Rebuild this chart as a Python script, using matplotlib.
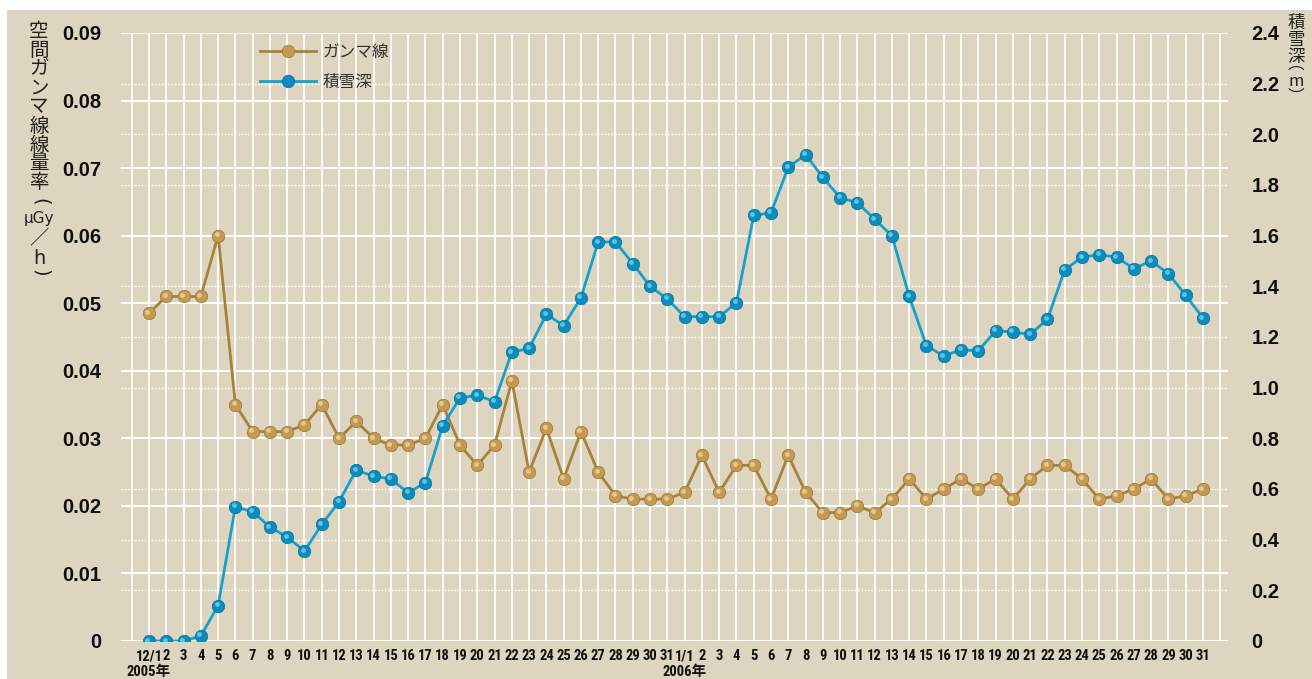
import matplotlib
matplotlib.use("Agg")
import matplotlib.pyplot as plt
from matplotlib.patches import Rectangle
from matplotlib import font_manager as fm
from matplotlib.transforms import offset_copy
import numpy as np
import os

# ---------------- data ----------------
day_labels = [
    "12/1", "2", "3", "4", "5", "6", "7", "8", "9", "10", "11", "12", "13", "14", "15", "16",
    "17", "18", "19", "20", "21", "22", "23", "24", "25", "26", "27", "28", "29", "30", "31",
    "1/1", "2", "3", "4", "5", "6", "7", "8", "9", "10", "11", "12", "13", "14", "15", "16",
    "17", "18", "19", "20", "21", "22", "23", "24", "25", "26", "27", "28", "29", "30", "31",
]
year_labels = {0: "2005年", 31: "2006年"}

gamma = [
    0.0485, 0.051, 0.051, 0.051, 0.060, 0.035, 0.031, 0.031, 0.031, 0.032, 0.035,
    0.030, 0.0325, 0.030, 0.029, 0.029, 0.030, 0.035, 0.029, 0.026, 0.029, 0.0385,
    0.025, 0.0315, 0.024, 0.031, 0.025, 0.0215, 0.021, 0.021, 0.021,
    0.022, 0.0275, 0.022, 0.026, 0.026, 0.021, 0.0275, 0.022, 0.019, 0.019, 0.020,
    0.019, 0.021, 0.024, 0.021, 0.0225, 0.024, 0.0225, 0.024, 0.021, 0.024, 0.026,
    0.026, 0.024, 0.021, 0.0215, 0.0225, 0.024, 0.021, 0.0215, 0.0225,
]
snow = [
    0.0, 0.0, 0.0, 0.02, 0.14, 0.53, 0.51, 0.45, 0.41, 0.355, 0.46,
    0.55, 0.675, 0.65, 0.64, 0.585, 0.625, 0.85, 0.96, 0.97, 0.945, 1.14,
    1.155, 1.29, 1.245, 1.355, 1.575, 1.575, 1.49, 1.40, 1.35,
    1.28, 1.28, 1.28, 1.335, 1.68, 1.69, 1.87, 1.92, 1.83, 1.75, 1.73,
    1.665, 1.60, 1.36, 1.165, 1.125, 1.15, 1.145, 1.225, 1.22, 1.21, 1.27,
    1.465, 1.515, 1.525, 1.515, 1.47, 1.50, 1.45, 1.365, 1.275,
]
left_ticks = [0, 0.01, 0.02, 0.03, 0.04, 0.05, 0.06, 0.07, 0.08, 0.09]
left_tick_labels = ["0", "0.01", "0.02", "0.03", "0.04", "0.05", "0.06", "0.07", "0.08", "0.09"]
right_ticks = [0, 0.2, 0.4, 0.6, 0.8, 1.0, 1.2, 1.4, 1.6, 1.8, 2.0, 2.2, 2.4]
right_tick_labels = ["0", "0.2", "0.4", "0.6", "0.8", "1.0", "1.2", "1.4", "1.6", "1.8", "2.0", "2.2", "2.4"]
series_names = ["ガンマ線", "積雪深"]

# ---------------- style ----------------
BG = "#ddd5bf"
GOLD_LINE = "#a8823a"
GOLD_MARK = "#c49a52"
GOLD_HI = "#e6c88e"
GOLD_EDGE = "#9a7636"
BLUE_LINE = "#16a0cc"
BLUE_MARK = "#0a8dbd"
BLUE_HI = "#5cc4e6"
BLUE_EDGE = "#07739b"
TXT = "#111111"
CJK = "Noto Sans CJK JP"

# find a narrow/condensed bold face for the crowded day labels
def find_narrow():
    prefs = ["LiberationSansNarrow-Bold", "RobotoCondensed-Bold", "OpenSans-CondBold",
             "OpenSansCondensed-Bold", "OpenSans_Condensed-Bold", "DejaVuSansCondensed-Bold"]
    files = [f.fname for f in fm.fontManager.ttflist]
    for p in prefs:
        for fn in files:
            if os.path.splitext(os.path.basename(fn))[0].replace(" ", "") == p:
                return fn
    for fn in files:
        b = os.path.basename(fn).lower()
        if ("narrow" in b or "cond" in b) and "bold" in b:
            return fn
    return None

narrow_file = find_narrow()
if narrow_file:
    narrow_fp = fm.FontProperties(fname=narrow_file, size=10.5)
    narrow_name = fm.FontProperties(fname=narrow_file).get_name()
    year_size = 10.5
else:
    narrow_fp = fm.FontProperties(family="Liberation Sans", weight="bold", size=9.5)
    narrow_name = "Liberation Sans"
    year_size = 10

W, H = 1312, 679
fig = plt.figure(figsize=(W / 100, H / 100), dpi=100)
fig.patch.set_facecolor("white")
fig.add_artist(Rectangle((7 / W, 0), 1 - 7 / W, (H - 10) / H, transform=fig.transFigure,
                         facecolor=BG, edgecolor="none", zorder=-10))

ax_left, ax_right, ax_top, ax_bot = 121, 1228, 33, 641
ax = fig.add_axes([ax_left / W, (H - ax_bot) / H, (ax_right - ax_left) / W, (ax_bot - ax_top) / H])
ax.patch.set_visible(False)
ax2 = ax.twinx()
ax2.patch.set_visible(False)

x = np.arange(len(day_labels))
ax.set_xlim(-1.62, 62.45)
ax.set_ylim(0, 0.09)
ax2.set_ylim(0, 2.4)

# grid
for xv in range(-1, 63):
    ax.axvline(xv, color="white", lw=1.3, zorder=0.5)
for yv in left_ticks:
    ax.axhline(yv, color="white", lw=2.0 if yv == 0 else 1.4, zorder=0.6)
ratio = 0.09 / 2.4
for rv in right_ticks:
    if abs(rv * ratio - round(rv * ratio / 0.01) * 0.01) > 1e-9:
        ax.axhline(rv * ratio, color="white", lw=1.0, ls=(0, (1.2, 1.2)), zorder=0.55)

for s in list(ax.spines.values()) + list(ax2.spines.values()):
    s.set_visible(False)

# series
lg, = ax.plot(x, gamma, color=GOLD_LINE, lw=2.0, marker="o", ms=9.0,
              mfc=GOLD_MARK, mec=GOLD_EDGE, mew=0.5, zorder=3, label=series_names[0])
ax.plot(x, gamma, ls="none", marker="o", ms=3.5, mfc=GOLD_HI, mec="none", zorder=3.1,
        transform=offset_copy(ax.transData, fig=fig, x=-1.5, y=1.5, units="dots"))
ls, = ax2.plot(x, snow, color=BLUE_LINE, lw=2.0, marker="o", ms=9.0,
               mfc=BLUE_MARK, mec=BLUE_EDGE, mew=0.5, zorder=3, label=series_names[1])
ax2.plot(x, snow, ls="none", marker="o", ms=3.5, mfc=BLUE_HI, mec="none", zorder=3.1,
         transform=offset_copy(ax2.transData, fig=fig, x=-1.5, y=1.5, units="dots"))

# ticks
ax.set_yticks(left_ticks)
ax.set_yticklabels(left_tick_labels, fontfamily="Liberation Sans", fontweight="bold",
                   fontsize=14.5, color=TXT)
ax.tick_params(axis="y", length=0, pad=14)
ax2.set_yticks(right_ticks)
ax2.set_yticklabels(right_tick_labels, fontfamily="Liberation Sans", fontweight="bold",
                    fontsize=14.5, color=TXT)
ax2.tick_params(axis="y", length=0, pad=17)

ax.set_xticks(x)
ax.set_xticklabels(day_labels, fontproperties=narrow_fp, color=TXT)
ax.tick_params(axis="x", length=0, pad=6)

for i, lab in year_labels.items():
    ax.annotate(lab, xy=(x[i], 0), xycoords=("data", "axes fraction"),
                xytext=(0, -31), textcoords="offset pixels", ha="center", va="center",
                fontsize=year_size, fontweight="bold", color=TXT,
                family=[narrow_name, CJK])

# legend
leg = ax2.legend(handles=[lg, ls], loc="upper left",
                 bbox_to_anchor=(132 / (ax_right - ax_left), 0.993),
                 frameon=False, prop={"family": CJK, "size": 12}, handlelength=3.4,
                 labelspacing=0.75, handletextpad=0.35, borderaxespad=0)
for t in leg.get_texts():
    t.set_color("#333333")

# vertical y-axis titles (stacked characters)
left_label = [("空", 31), ("間", 50), ("ガ", 69), ("ン", 88), ("マ", 107), ("線", 126),
              ("線", 145), ("量", 164), ("率", 183), ("(", 202), ("μGy", 219),
              ("／", 239), ("h", 258), (")", 273)]
for ch, yp in left_label:
    if ch in "()":
        fig.text(40 / W, 1 - yp / H, ch, ha="center", va="center", fontsize=14,
                 family="DejaVu Sans", color="#222222", rotation=-90, rotation_mode="anchor")
        continue
    size = 11 if ch == "μGy" else 14
    fam = ["DejaVu Sans"] if ch in ("μGy", "h") else [CJK, "DejaVu Sans"]
    fig.text(39 / W, 1 - yp / H, ch, ha="center", va="center", fontsize=size,
             family=fam, color="#222222")

# right title
for ch, yp in [("積", 23), ("雪", 40), ("深", 57)]:
    fig.text(1296 / W, 1 - yp / H, ch, ha="center", va="center", fontsize=12.5,
             family=[CJK, "DejaVu Sans"], color="#222222")
fig.text(1296 / W, 1 - 81 / H, "︵\nm\n︶", ha="center", va="center",
         fontsize=12, family=[CJK, "DejaVu Sans"], color="#222222",
         linespacing=0.95, multialignment="center")

fig.savefig("out.png", dpi=100, facecolor=fig.get_facecolor())
